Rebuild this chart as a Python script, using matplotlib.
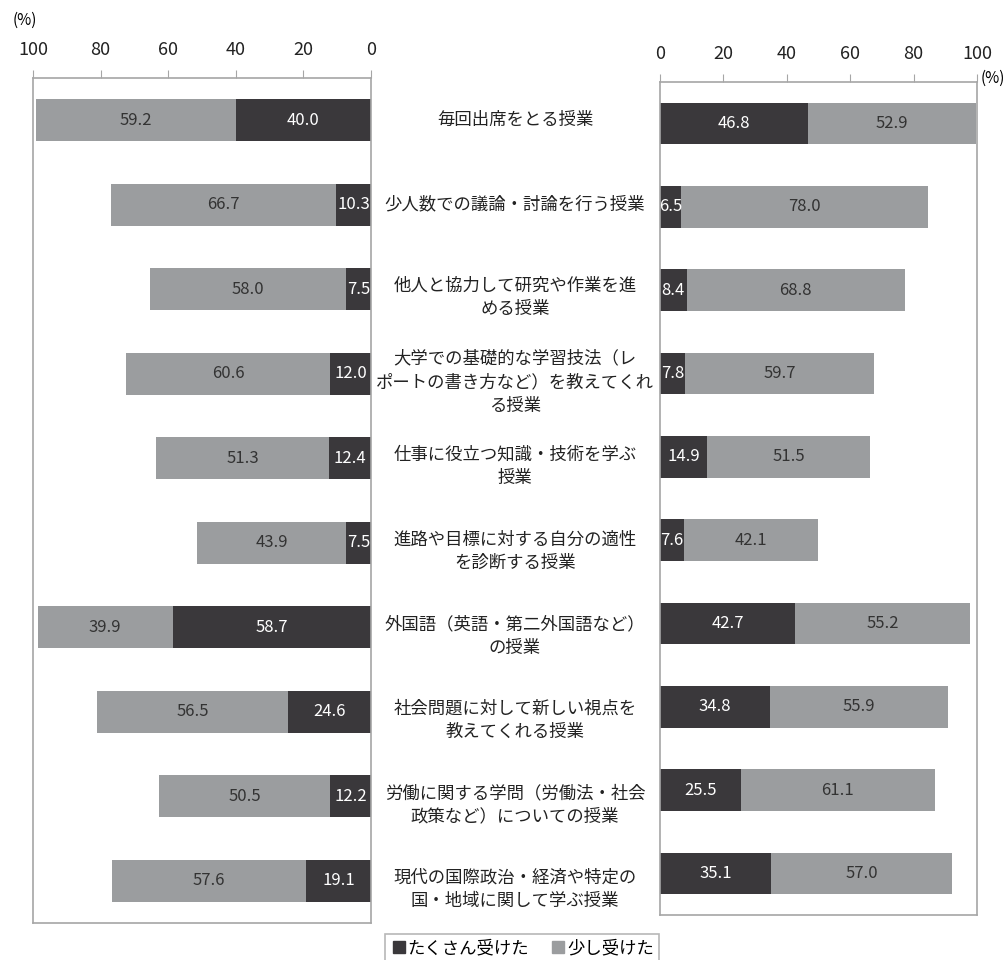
import numpy as np
import matplotlib.pyplot as plt
from matplotlib.lines import Line2D
from matplotlib.transforms import blended_transform_factory

plt.rcParams['font.family'] = ['Noto Sans CJK JP', 'DejaVu Sans']

# %% data
categories = [
    '毎回出席をとる授業',
    '少人数での議論・討論を行う授業',
    '他人と協力して研究や作業を進\nめる授業',
    '大学での基礎的な学習技法（レ\nポートの書き方など）を教えてくれ\nる授業',
    '仕事に役立つ知識・技術を学ぶ\n授業',
    '進路や目標に対する自分の適性\nを診断する授業',
    '外国語（英語・第二外国語など）\nの授業',
    '社会問題に対して新しい視点を\n教えてくれる授業',
    '労働に関する学問（労働法・社会\n政策など）についての授業',
    '現代の国際政治・経済や特定の\n国・地域に関して学ぶ授業',
]
left_many = [40.0, 10.3, 7.5, 12.0, 12.4, 7.5, 58.7, 24.6, 12.2, 19.1]
left_some = [59.2, 66.7, 58.0, 60.6, 51.3, 43.9, 39.9, 56.5, 50.5, 57.6]
right_many = [46.8, 6.5, 8.4, 7.8, 14.9, 7.6, 42.7, 34.8, 25.5, 35.1]
right_some = [52.9, 78.0, 68.8, 59.7, 51.5, 42.1, 55.2, 55.9, 61.1, 57.0]
xticks = [0, 20, 40, 60, 80, 100]
legend_labels = ['たくさん受けた', '少し受けた']

dark = '#3a383b'
light = '#9b9d9f'
frame = '#a6a6a6'

W, H = 1008, 960
fig = plt.figure(figsize=(W / 100, H / 100), dpi=100)
axL = fig.add_axes([33 / W, 1 - 923 / H, (371 - 33) / W, (923 - 78) / H])
axR = fig.add_axes([660 / W, 1 - 915 / H, (977 - 660) / W, (915 - 82) / H])

y = np.arange(len(categories))


def draw(ax, many, some):
    many = np.array(many)
    some = np.array(some)
    ax.barh(y, many, height=0.5, color=dark, edgecolor='none')
    ax.barh(y, some, left=many, height=0.5, color=light, edgecolor='none')
    for i in range(len(y)):
        ax.text(many[i] / 2, y[i], f'{many[i]:.1f}', ha='center', va='center',
                color='white', fontsize=12)
        ax.text(many[i] + some[i] / 2, y[i], f'{some[i]:.1f}', ha='center',
                va='center', color='#333333', fontsize=12)
    ax.set_ylim(len(y) - 0.5, -0.5)
    ax.set_yticks([])
    ax.set_xticks(xticks)
    ax.xaxis.tick_top()
    ax.tick_params(axis='x', direction='out', length=6, color=frame,
                   labelsize=13, pad=8, labelcolor='#222222')
    for s in ax.spines.values():
        s.set_color(frame)
        s.set_linewidth(1.2)


draw(axL, left_many, left_some)
axL.set_xlim(100, 0)
draw(axR, right_many, right_some)
axR.set_xlim(0, 100)

# category labels in the middle (multi-line ones sit a bit lower)
tr = blended_transform_factory(fig.transFigure, axL.transData)
for i, lab in enumerate(categories):
    off = 0.1 if '\n' in lab else 0.0
    axL.text(515 / W, y[i] + off, lab, transform=tr, ha='center', va='center',
             fontsize=12.5, linespacing=1.4, clip_on=False, color='#222222')

fig.text(25 / W, 1 - 20 / H, '(%)', ha='center', va='center', fontsize=11)
fig.text(993 / W, 1 - 78 / H, '(%)', ha='center', va='center', fontsize=11)

handles = [Line2D([], [], marker='s', linestyle='none', color=dark, markersize=9),
           Line2D([], [], marker='s', linestyle='none', color=light, markersize=9)]
leg = fig.legend(handles, legend_labels, loc='center', bbox_to_anchor=(522 / W, 1 - 948 / H),
                 ncol=2, frameon=True, fontsize=12.5, handletextpad=0.0,
                 columnspacing=1.2, borderpad=0.3, handlelength=1.0, fancybox=False)
leg.get_frame().set_edgecolor(frame)
leg.get_frame().set_linewidth(1.2)

plt.savefig('out.png', dpi=100)
